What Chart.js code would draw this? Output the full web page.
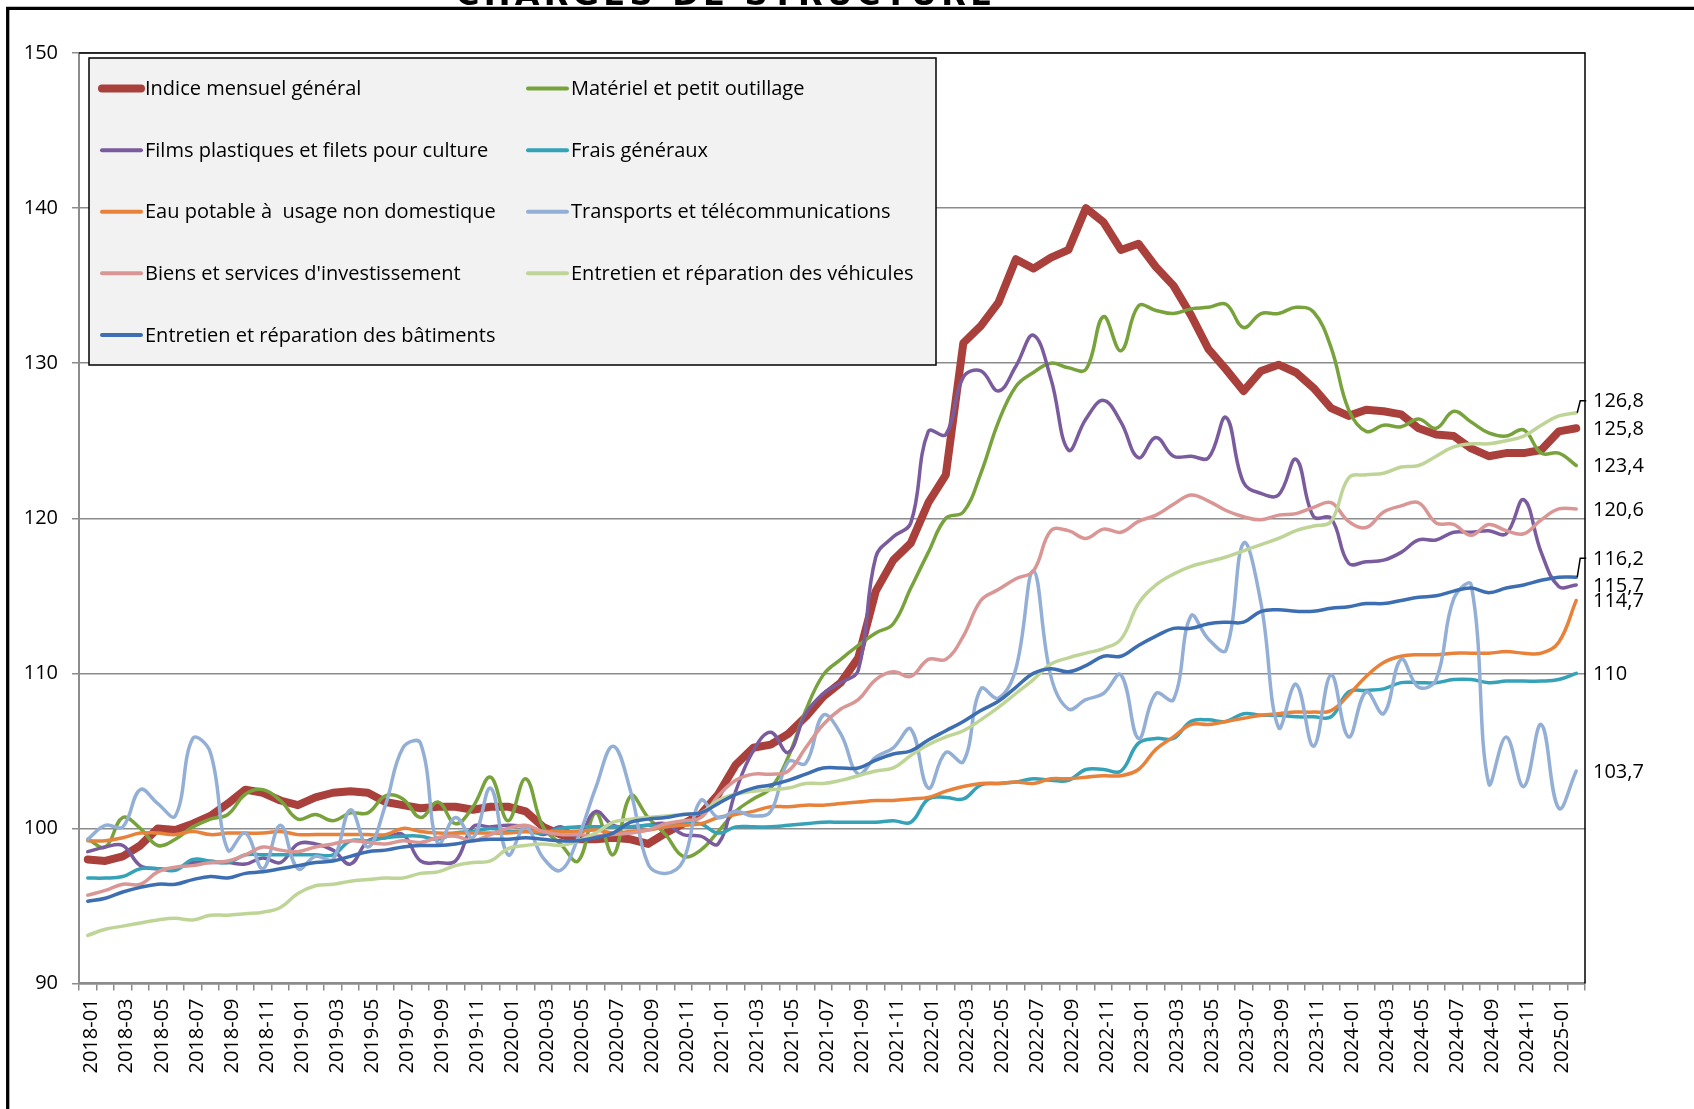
<!DOCTYPE html>
<html>
<head>
<meta charset="utf-8">
<script src="https://cdn.jsdelivr.net/npm/chart.js@4.4.1/dist/chart.umd.min.js"></script>
<style>
  html, body { margin: 0; padding: 0; background: #fff; overflow: hidden; }
  #wrap { position: relative; width: 1694px; height: 1109px; }
</style>
</head>
<body>
<div id="wrap"><canvas id="graphique" width="1694" height="1109"></canvas></div>
<script>
// Charges de structure — indices mensuels 2018-01 a 2025-02
const mois = [
  '2018-01','2018-02','2018-03','2018-04','2018-05','2018-06','2018-07','2018-08','2018-09','2018-10','2018-11','2018-12',
  '2019-01','2019-02','2019-03','2019-04','2019-05','2019-06','2019-07','2019-08','2019-09','2019-10','2019-11','2019-12',
  '2020-01','2020-02','2020-03','2020-04','2020-05','2020-06','2020-07','2020-08','2020-09','2020-10','2020-11','2020-12',
  '2021-01','2021-02','2021-03','2021-04','2021-05','2021-06','2021-07','2021-08','2021-09','2021-10','2021-11','2021-12',
  '2022-01','2022-02','2022-03','2022-04','2022-05','2022-06','2022-07','2022-08','2022-09','2022-10','2022-11','2022-12',
  '2023-01','2023-02','2023-03','2023-04','2023-05','2023-06','2023-07','2023-08','2023-09','2023-10','2023-11','2023-12',
  '2024-01','2024-02','2024-03','2024-04','2024-05','2024-06','2024-07','2024-08','2024-09','2024-10','2024-11','2024-12',
  '2025-01','2025-02'
];

const indiceGeneral = [
  98.0, 97.9, 98.2, 98.9, 100.0, 99.9, 100.3, 100.8, 101.6, 102.5, 102.3, 101.8,
  101.5, 102.0, 102.3, 102.4, 102.3, 101.7, 101.5, 101.3, 101.4, 101.4, 101.2, 101.4,
  101.4, 101.1, 100.1, 99.6, 99.3, 99.3, 99.4, 99.3, 99.0, 99.7, 100.3, 100.9,
  102.2, 104.1, 105.2, 105.4, 106.1, 107.2, 108.5, 109.4, 111.0, 115.3, 117.3, 118.4,
  121.0, 122.8, 131.3, 132.4, 133.9, 136.7, 136.1, 136.8, 137.3, 140.0, 139.1, 137.3,
  137.7, 136.2, 135.0, 133.1, 130.9, 129.6, 128.2, 129.5, 129.9, 129.4, 128.4, 127.1,
  126.6, 127.0, 126.9, 126.7, 125.8, 125.4, 125.3, 124.5, 124.0, 124.2, 124.2, 124.4,
  125.6, 125.8
];
const materiel = [
  99.3, 98.8, 100.7, 100.0, 98.9, 99.3, 100.1, 100.6, 100.9, 102.2, 102.5, 101.8,
  100.6, 100.9, 100.5, 101.0, 101.0, 102.1, 101.9, 100.7, 101.7, 100.3, 101.4, 103.3,
  100.5, 103.2, 100.1, 99.0, 97.9, 101.0, 98.3, 102.1, 100.7, 99.6, 98.2, 98.6,
  99.8, 101.1, 101.9, 102.6, 104.6, 107.6, 109.9, 110.9, 111.8, 112.6, 113.2, 115.5,
  117.8, 120.0, 120.4, 122.9, 126.2, 128.5, 129.4, 130.0, 129.7, 129.6, 133.0, 130.8,
  133.7, 133.4, 133.2, 133.5, 133.6, 133.8, 132.3, 133.2, 133.2, 133.6, 133.3, 131.0,
  127.0, 125.6, 126.0, 125.9, 126.4, 125.8, 126.9, 126.2, 125.5, 125.3, 125.7, 124.2,
  124.2, 123.4
];
const filmsPlastiques = [
  98.5, 98.8, 98.9, 97.6, 97.4, 97.4, 97.8, 97.8, 97.8, 97.7, 98.1, 97.8,
  99.0, 99.0, 98.6, 97.7, 99.2, 99.4, 99.6, 97.9, 97.8, 97.9, 100.1, 100.1,
  100.2, 100.1, 99.6, 100.1, 99.5, 101.1, 100.2, 100.1, 100.2, 100.3, 99.6, 99.5,
  99.0, 102.4, 105.0, 106.2, 104.9, 107.4, 108.7, 109.4, 110.2, 117.5, 118.8, 119.7,
  125.6, 125.4, 129.1, 129.5, 128.2, 129.8, 131.8, 129.0, 124.4, 126.4, 127.6, 126.2,
  123.9, 125.2, 124.0, 124.0, 123.9, 126.5, 122.3, 121.6, 121.5, 123.8, 120.1, 120.0,
  117.1, 117.2, 117.3, 117.8, 118.6, 118.6, 119.1, 119.1, 119.2, 119.0, 121.2, 117.8,
  115.6, 115.7
];
const fraisGeneraux = [
  96.8, 96.8, 96.9, 97.4, 97.4, 97.3, 98.0, 97.9, 97.8, 98.3, 98.3, 98.3,
  98.3, 98.3, 98.3, 99.2, 99.2, 99.4, 99.5, 99.5, 99.3, 99.7, 99.8, 100.0,
  99.8, 99.8, 99.7, 100.0, 100.1, 100.1, 100.1, 100.1, 100.2, 100.1, 100.3, 100.3,
  99.7, 100.1, 100.1, 100.1, 100.2, 100.3, 100.4, 100.4, 100.4, 100.4, 100.5, 100.4,
  101.9, 102.0, 101.9, 102.8, 102.9, 103.0, 103.2, 103.1, 103.1, 103.8, 103.8, 103.7,
  105.5, 105.8, 105.8, 106.9, 107.0, 106.9, 107.4, 107.3, 107.3, 107.2, 107.2, 107.2,
  108.8, 108.9, 109.0, 109.4, 109.4, 109.4, 109.6, 109.6, 109.4, 109.5, 109.5, 109.5,
  109.6, 110.0
];
const eauPotable = [
  99.2, 99.2, 99.4, 99.7, 99.7, 99.6, 99.8, 99.6, 99.7, 99.7, 99.7, 99.8,
  99.6, 99.6, 99.6, 99.6, 99.6, 99.6, 100.0, 99.8, 99.7, 99.7, 99.7, 99.7,
  99.7, 99.8, 99.8, 99.8, 99.8, 99.9, 99.7, 99.8, 99.9, 100.1, 100.2, 100.3,
  100.7, 100.9, 101.1, 101.4, 101.4, 101.5, 101.5, 101.6, 101.7, 101.8, 101.8, 101.9,
  102.0, 102.4, 102.7, 102.9, 102.9, 103.0, 102.9, 103.2, 103.2, 103.3, 103.4, 103.4,
  103.8, 105.1, 105.9, 106.7, 106.7, 106.9, 107.1, 107.3, 107.4, 107.5, 107.5, 107.6,
  108.6, 109.8, 110.7, 111.1, 111.2, 111.2, 111.3, 111.3, 111.3, 111.4, 111.3, 111.3,
  112.0, 114.7
];
const transports = [
  99.3, 100.2, 100.1, 102.5, 101.6, 100.8, 105.8, 104.9, 98.6, 99.7, 97.4, 100.2,
  97.4, 98.2, 98.0, 101.2, 98.8, 101.5, 105.2, 105.5, 99.0, 100.7, 99.4, 102.6,
  98.3, 100.1, 98.1, 97.3, 99.4, 102.6, 105.3, 102.4, 97.7, 97.1, 97.9, 101.8,
  100.7, 101.1, 100.8, 101.1, 104.3, 104.2, 107.3, 106.1, 103.5, 104.6, 105.2, 106.4,
  102.6, 104.9, 104.3, 109.0, 108.4, 110.3, 116.6, 109.8, 107.7, 108.3, 108.7, 109.9,
  105.8, 108.7, 108.3, 113.7, 112.2, 111.5, 118.4, 114.5, 106.5, 109.3, 105.3, 109.9,
  105.9, 108.8, 107.4, 110.9, 109.1, 109.6, 114.8, 115.7, 102.9, 105.9, 102.7, 106.7,
  101.3, 103.7
];
const biensServices = [
  95.7, 96.0, 96.4, 96.4, 97.2, 97.5, 97.6, 97.8, 97.9, 98.3, 98.8, 98.6,
  98.5, 98.8, 99.0, 99.2, 99.1, 99.0, 99.2, 99.1, 99.4, 99.5, 99.2, 99.6,
  100.0, 100.2, 99.8, 99.6, 99.6, 99.5, 99.6, 99.7, 99.9, 100.3, 100.5, 100.7,
  102.1, 103.1, 103.5, 103.5, 103.7, 105.2, 106.7, 107.7, 108.3, 109.6, 110.1, 109.8,
  110.9, 110.9, 112.4, 114.7, 115.4, 116.1, 116.6, 119.2, 119.2, 118.7, 119.3, 119.1,
  119.8, 120.2, 120.9, 121.5, 121.1, 120.5, 120.1, 119.9, 120.2, 120.3, 120.7, 121.0,
  119.8, 119.4, 120.4, 120.8, 121.0, 119.7, 119.6, 118.9, 119.6, 119.2, 119.0, 119.9,
  120.6, 120.6
];
const vehicules = [
  93.1, 93.5, 93.7, 93.9, 94.1, 94.2, 94.1, 94.4, 94.4, 94.5, 94.6, 94.9,
  95.8, 96.3, 96.4, 96.6, 96.7, 96.8, 96.8, 97.1, 97.2, 97.6, 97.8, 97.9,
  98.7, 98.9, 99.0, 98.9, 99.2, 99.7, 100.4, 100.6, 100.7, 100.8, 100.9, 101.0,
  101.8, 102.2, 102.4, 102.5, 102.6, 102.9, 102.9, 103.1, 103.4, 103.7, 103.9, 104.7,
  105.4, 105.9, 106.3, 107.0, 107.8, 108.7, 109.6, 110.6, 111.0, 111.3, 111.6, 112.2,
  114.5, 115.7, 116.4, 116.9, 117.2, 117.5, 117.9, 118.3, 118.7, 119.2, 119.5, 119.8,
  122.6, 122.8, 122.9, 123.3, 123.4, 124.0, 124.6, 124.8, 124.8, 125.0, 125.3, 126.0,
  126.6, 126.8
];
const batiments = [
  95.3, 95.5, 95.9, 96.2, 96.4, 96.4, 96.7, 96.9, 96.8, 97.1, 97.2, 97.4,
  97.6, 97.8, 97.9, 98.2, 98.5, 98.6, 98.8, 98.9, 98.9, 99.0, 99.2, 99.3,
  99.3, 99.4, 99.3, 99.2, 99.2, 99.4, 99.7, 100.4, 100.6, 100.7, 100.9, 101.0,
  101.6, 102.2, 102.6, 102.8, 103.1, 103.5, 103.9, 103.9, 103.9, 104.4, 104.8, 105.0,
  105.7, 106.3, 106.9, 107.6, 108.2, 109.1, 110.0, 110.3, 110.1, 110.5, 111.1, 111.1,
  111.8, 112.4, 112.9, 112.9, 113.2, 113.3, 113.3, 114.0, 114.1, 114.0, 114.0, 114.2,
  114.3, 114.5, 114.5, 114.7, 114.9, 115.0, 115.3, 115.5, 115.2, 115.5, 115.7, 116.0,
  116.2, 116.2
];

const noms = [
  'Indice mensuel général', 'Matériel et petit outillage',
  'Films plastiques et filets pour culture', 'Frais généraux',
  'Eau potable à  usage non domestique', 'Transports et télécommunications',
  "Biens et services d'investissement", 'Entretien et réparation des véhicules',
  'Entretien et réparation des bâtiments'
];
const valeurs = [indiceGeneral, materiel, filmsPlastiques, fraisGeneraux, eauPotable,
  transports, biensServices, vehicules, batiments];
const couleurs = ['#A9403B', '#78A33C', '#7A5C9E', '#35A2B8', '#E8823A',
  '#93AFD6', '#D99694', '#BFD598', '#3C6EB1'];
const epaisseurs = [8, 3.5, 3.5, 3.5, 3.5, 3.5, 3.5, 3.5, 3.5];
// decalage vertical des etiquettes de fin (avec trait de rappel)
const decalEtiquette = [0, 0, 0, 0, 0, 0, 0, -12, -19];

const POLICE = "'Open Sans', 'DejaVu Sans', sans-serif";

const habillage = {
  id: 'habillage',
  beforeDraw(chart) {
    const c = chart.ctx;
    c.save();
    c.fillStyle = '#fff';
    c.fillRect(0, 0, chart.width, chart.height);
    c.restore();
  },
  afterDatasetsDraw(chart) {
    // legende sur deux colonnes
    const c = chart.ctx;
    c.save();
    c.fillStyle = '#f2f2f2';
    c.fillRect(89, 58, 847, 307);
    c.strokeStyle = '#000';
    c.lineWidth = 1.5;
    c.strokeRect(89, 58, 847, 307);
    const colX = [100, 526];
    const rangY = [88.6, 150.2, 211.7, 273.3, 334.9];
    c.font = '20px ' + POLICE;
    c.textBaseline = 'middle';
    c.lineCap = 'round';
    chart.data.datasets.forEach((ds, k) => {
      const x = colX[k % 2], y = rangY[Math.floor(k / 2)];
      c.strokeStyle = ds.borderColor;
      c.lineWidth = k === 0 ? 8 : 4;
      c.beginPath(); c.moveTo(x + 2, y); c.lineTo(x + 41, y); c.stroke();
      c.fillStyle = '#000';
      c.fillText(ds.label, x + 45, y + 1);
    });
    c.restore();
  },
  afterDraw(chart) {
    const c = chart.ctx, a = chart.chartArea;
    c.save();
    // bordure haut/droite de la zone de tracé
    c.strokeStyle = '#000';
    c.lineWidth = 1.5;
    c.beginPath();
    c.moveTo(a.left, a.top); c.lineTo(a.right, a.top); c.lineTo(a.right, a.bottom);
    c.stroke();

    // etiquettes de la derniere valeur
    c.font = '20px ' + POLICE;
    c.fillStyle = '#000';
    c.textBaseline = 'middle';
    chart.data.datasets.forEach((ds, k) => {
      const meta = chart.getDatasetMeta(k);
      const pt = meta.data[meta.data.length - 1];
      const v = ds.data[ds.data.length - 1];
      const ty = pt.y + decalEtiquette[k];
      if (decalEtiquette[k] !== 0) {
        c.strokeStyle = '#000';
        c.lineWidth = 1.5;
        c.beginPath();
        c.moveTo(pt.x + 1, pt.y); c.lineTo(pt.x + 4, ty); c.lineTo(pt.x + 10, ty);
        c.stroke();
      }
      c.fillText(String(v).replace('.', ','), 1593, ty + 1);
    });

    // titre (coupe en haut de l'image)
    c.font = "bold 32px 'DejaVu Sans', sans-serif";
    c.textBaseline = 'alphabetic';
    const titre = 'CHARGES DE STRUCTURE';
    const chars = titre.split('');
    const largeurs = chars.map(ch => c.measureText(ch).width);
    const total = largeurs.reduce((s, w) => s + w, 0);
    const esp = (536 - total) / (chars.length - 1);
    let x = 456;
    chars.forEach((ch, i) => { c.fillText(ch, x, 5); x += largeurs[i] + esp; });

    // cadre exterieur
    c.lineWidth = 3.3;
    c.beginPath();
    c.moveTo(7.7, chart.height); c.lineTo(7.7, 8.3); c.lineTo(chart.width, 8.3);
    c.stroke();
    c.restore();
  }
};

const ctx = document.getElementById('graphique').getContext('2d');
new Chart(ctx, {
  type: 'line',
  data: {
    labels: mois,
    datasets: valeurs.map((d, k) => ({
      label: noms[k],
      data: d,
      borderColor: couleurs[k],
      backgroundColor: couleurs[k],
      borderWidth: epaisseurs[k],
      tension: k === 0 ? 0 : 0.4,
      pointRadius: 0,
      fill: false,
      borderJoinStyle: 'round',
      borderCapStyle: 'round',
      order: valeurs.length - k
    }))
  },
  options: {
    responsive: false,
    animation: false,
    layout: { padding: { left: 0, top: 53, right: 109, bottom: 0 } },
    plugins: { legend: { display: false }, tooltip: { enabled: false } },
    scales: {
      x: {
        offset: true,
        grid: { offset: true, drawOnChartArea: false, color: '#8c8c8c', tickLength: 7, lineWidth: 1.5 },
        border: { color: '#8c8c8c', width: 2.5 },
        ticks: {
          autoSkip: false, minRotation: 90, maxRotation: 90, padding: 8, labelOffset: 4, color: '#000',
          font: { family: POLICE, size: 20 },
          callback: (v, i) => (i % 2 === 0 ? mois[i] : '')
        },
        afterFit: s => { s.height = 125.5; }
      },
      y: {
        min: 90, max: 150,
        ticks: { stepSize: 10, padding: 14, color: '#000', font: { family: POLICE, size: 20 } },
        grid: { color: '#8c8c8c', lineWidth: 1.5, tickLength: 7 },
        border: { color: '#8c8c8c', width: 2 },
        afterFit: s => { s.width = 79; }
      }
    }
  },
  plugins: [habillage]
});
</script>
</body>
</html>
